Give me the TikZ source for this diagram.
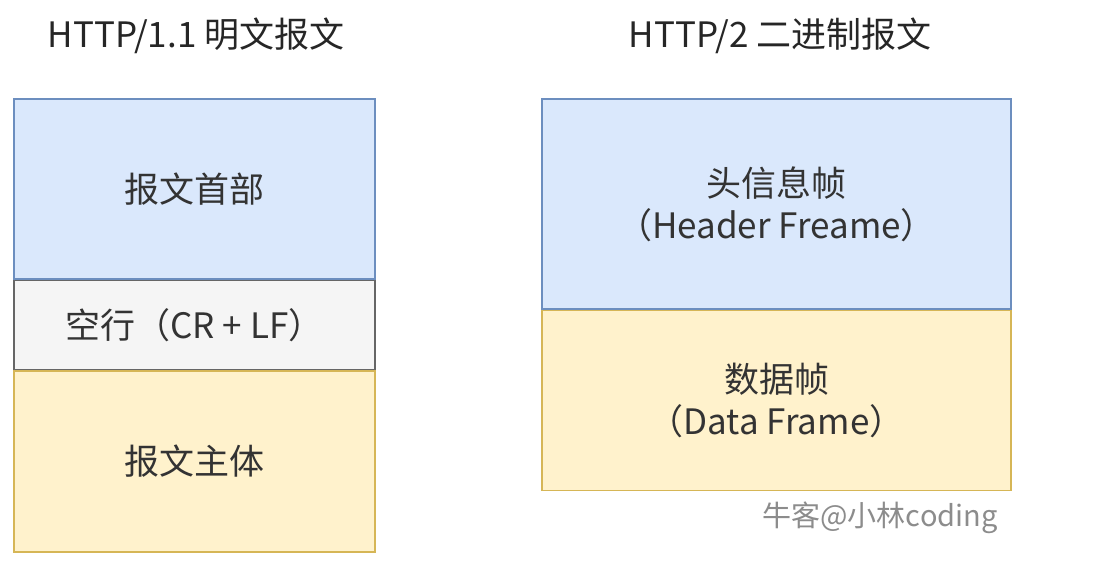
\documentclass[tikz,border=0pt]{standalone}
\usepackage{fontspec}
\setmainfont{Noto Sans CJK SC}
\usetikzlibrary{positioning}
\definecolor{bluefill}{HTML}{DAE8FC}
\definecolor{bluedraw}{HTML}{6C8EBF}
\definecolor{yellowfill}{HTML}{FFF2CC}
\definecolor{yellowdraw}{HTML}{D6B656}
\definecolor{greyfill}{HTML}{F5F5F5}
\definecolor{greydraw}{HTML}{666666}
\begin{document}
\begin{tikzpicture}[x=1pt,y=-1pt,
    box/.style={draw, line width=1.5pt, inner sep=0pt, font=\fontsize{35}{42}\selectfont, align=center, text=black!80},
    bluebox/.style={box, fill=bluefill, draw=bluedraw},
    yellowbox/.style={box, fill=yellowfill, draw=yellowdraw},
    greybox/.style={box, fill=greyfill, draw=greydraw},
    title/.style={font=\fontsize{35}{42}\selectfont, text=black!85}]
    \useasboundingbox (0,0) rectangle (1120,578);

    % HTTP/1.1
    \node[title] (T1) at (196,36) {HTTP/1.1 明文报文};
    \node[bluebox, minimum width=361pt, minimum height=180pt] (H1) at (194.5,189) {报文首部};
    \node[greybox, minimum width=361pt, minimum height=89pt, below=0pt of H1] (E1) {空行（CR + LF）};
    \node[yellowbox, minimum width=361pt, minimum height=181pt, below=0pt of E1] (B1) {报文主体};

    % HTTP/2
    \node[title] (T2) at (780,36) {HTTP/2 二进制报文};
    \node[bluebox, minimum width=469pt, minimum height=210pt] (H2) at (776.5,204) {头信息帧\\（Header Freame）};
    \node[yellowbox, minimum width=469pt, minimum height=180pt, below=0pt of H2] (D2) {数据帧\\（Data Frame）};

    \node[font=\fontsize{29}{34}\selectfont, text=black!45] (W) at (880,518) {牛客@小林coding};
\end{tikzpicture}
\end{document}
